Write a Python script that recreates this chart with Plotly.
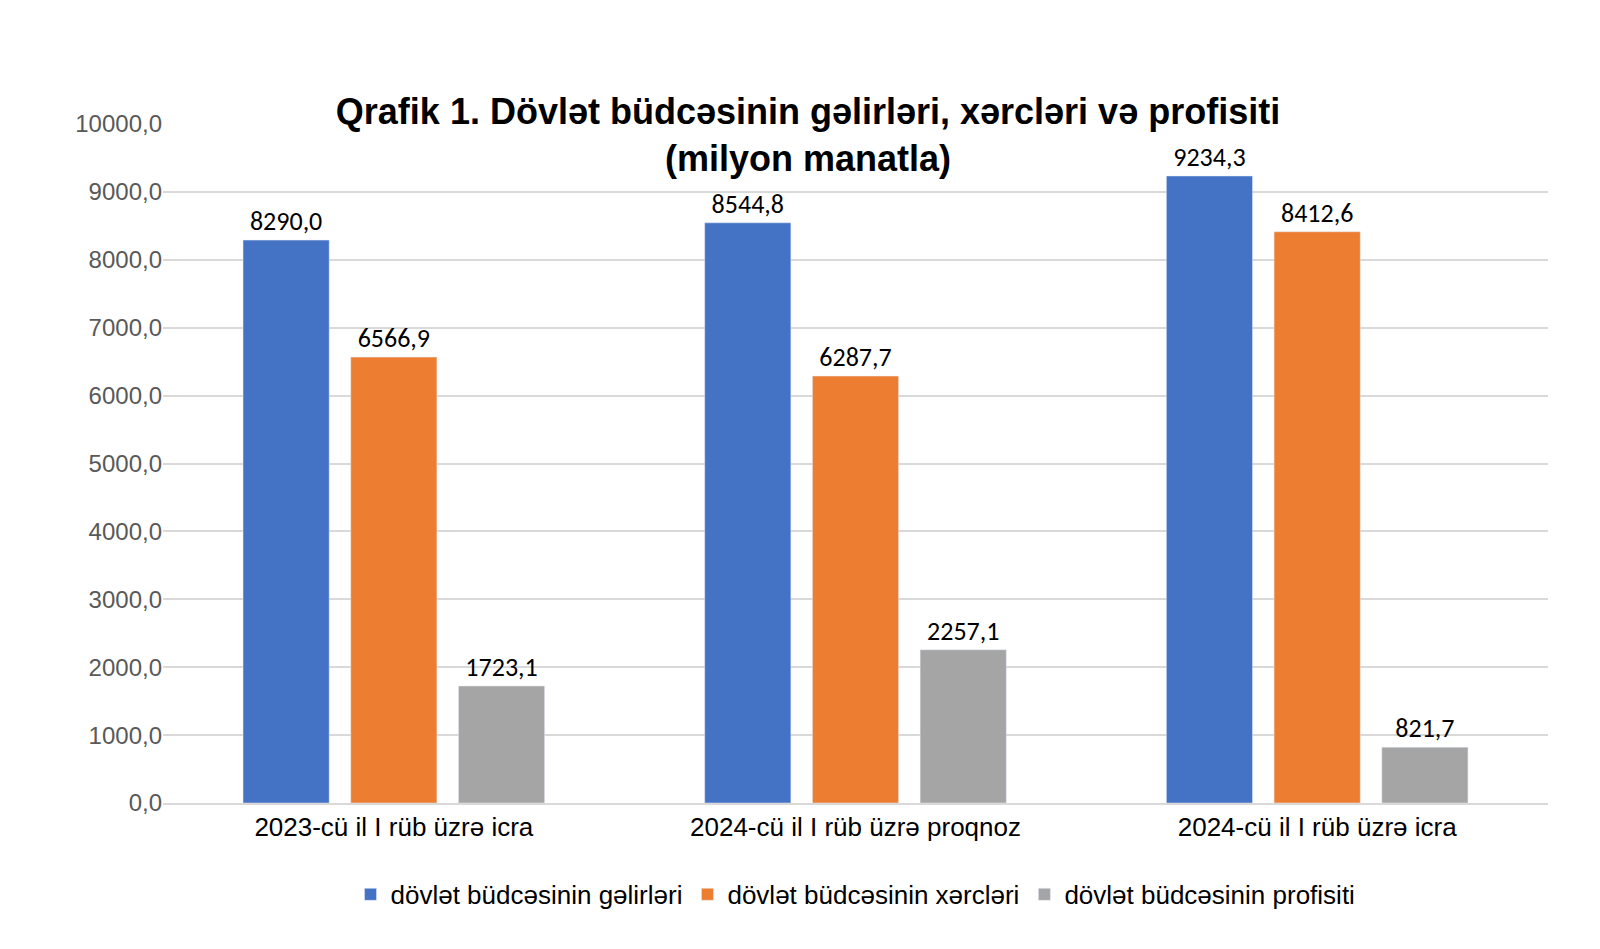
import plotly.graph_objects as go

categories = ["2023-cü il I rüb üzrə icra", "2024-cü il I rüb üzrə proqnoz", "2024-cü il I rüb üzrə icra"]
gelirler = [8290.0, 8544.8, 9234.3]
xercler = [6566.9, 6287.7, 8412.6]
profisit = [1723.1, 2257.1, 821.7]

series = [
    ("dövlət büdcəsinin gəlirləri", gelirler, "#4472C4"),
    ("dövlət büdcəsinin xərcləri", xercler, "#ED7D31"),
    ("dövlət büdcəsinin profisiti", profisit, "#A5A5A5"),
]

fig = go.Figure()
for name, vals, color in series:
    fig.add_trace(go.Bar(
        x=categories, y=vals, name=name, marker_color=color,
        texttemplate="%{y:.1f}", textposition="outside",
        textfont=dict(size=26, color="#000000", family="Carlito, Liberation Sans, Arial"),
        cliponaxis=False,
    ))

fig.update_layout(
    width=1600, height=949,
    paper_bgcolor="white", plot_bgcolor="white",
    separators=", ",
    font=dict(family="Liberation Sans, Arial", color="#000000"),
    title=dict(
        text="<b>Qrafik 1. Dövlət büdcəsinin gəlirləri, xərcləri və profisiti<br>(milyon manatla)</b>",
        x=0.5, xanchor="center", yref="paper", y=1.0, yanchor="bottom",
        pad=dict(b=0),
        font=dict(size=36, color="#000000"),
    ),
    margin=dict(l=155, r=60, t=116, b=154),
    barmode="group", bargap=0.3, bargroupgap=0.2,
    xaxis=dict(tickfont=dict(size=26, color="#000000"), showline=True,
               linecolor="#D9D9D9", linewidth=2, ticks=""),
    yaxis=dict(range=[0, 10000], dtick=1000, tickformat=".1f",
               tickfont=dict(size=24, color="#595959"),
               gridcolor="#D9D9D9", gridwidth=1.5, zeroline=False),
    legend=dict(orientation="h", x=0.5, xanchor="center", y=-0.1, yanchor="top",
                font=dict(size=26, color="#000000"), itemwidth=30),
)

fig.write_html("out.html")
